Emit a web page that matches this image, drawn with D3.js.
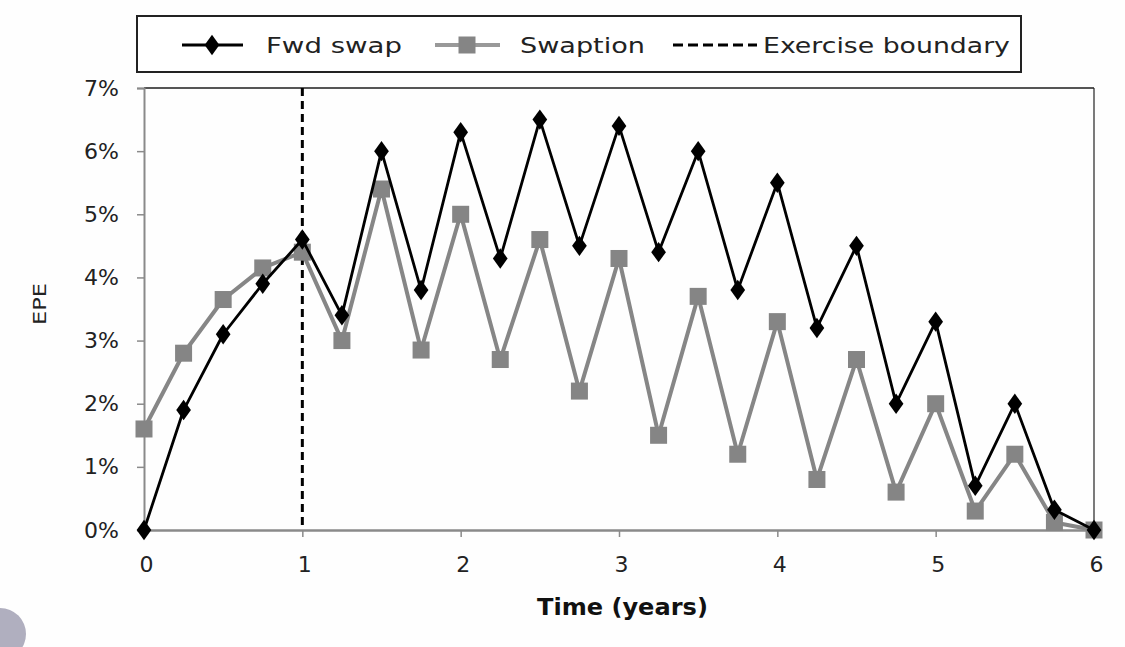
<!DOCTYPE html>
<html>
<head>
<meta charset="utf-8">
<script src="https://cdn.jsdelivr.net/npm/d3@7"></script>
<style>
  html, body { margin: 0; padding: 0; background: #fefefe; }
  svg { display: block; }
</style>
</head>
<body>
<svg id="chart" width="1125" height="647"></svg>
<script>
const times = [0,0.25,0.5,0.75,1,1.25,1.5,1.75,2,2.25,2.5,2.75,3,3.25,3.5,3.75,4,4.25,4.5,4.75,5,5.25,5.5,5.75,6];
const fwdSwap = [0,1.9,3.1,3.9,4.6,3.4,6.0,3.8,6.3,4.3,6.5,4.5,6.4,4.4,6.0,3.8,5.5,3.2,4.5,2.0,3.3,0.7,2.0,0.32,0];
const swaption = [1.6,2.8,3.65,4.15,4.4,3.0,5.4,2.85,5.0,2.7,4.6,2.2,4.3,1.5,3.7,1.2,3.3,0.8,2.7,0.6,2.0,0.3,1.2,0.12,0];
const exerciseBoundary = 1;
const xTicks = [0,1,2,3,4,5,6];
const yTicks = [0,1,2,3,4,5,6,7];
const seriesNames = ["Fwd swap","Swaption","Exercise boundary"];

const svg = d3.select("#chart");
const margin = {left:144, right:31, top:88, bottom:117};
const W = 1125, H = 647;
const x = d3.scaleLinear().domain([0,6]).range([margin.left, W - margin.right]);
const y = d3.scaleLinear().domain([0,7]).range([H - margin.bottom, margin.top]);

const font = "'DejaVu Sans', 'Open Sans', sans-serif";

// stretch a text horizontally so it spans the given width from its left edge
function fitWidth(sel, left, baseline, width) {
  sel.attr("x", 0).attr("y", 0);
  const w = sel.node().getComputedTextLength();
  const k = width / w;
  sel.attr("transform", `translate(${left},${baseline}) scale(${k},1)`);
}

// decorative circle bottom-left
svg.append("circle").attr("cx", 0).attr("cy", 634).attr("r", 26).attr("fill", "#b0afbf");

// plot frame (top and right)
svg.append("line").attr("x1", x(0)).attr("x2", x(6)).attr("y1", y(7)).attr("y2", y(7))
  .attr("stroke", "#555").attr("stroke-width", 2);
svg.append("line").attr("x1", x(6)).attr("x2", x(6)).attr("y1", y(7)).attr("y2", y(0))
  .attr("stroke", "#222").attr("stroke-width", 1.2);

// Y axis
const yAxis = svg.append("g").attr("transform", `translate(${x(0)},0)`)
  .call(d3.axisLeft(y).tickValues(yTicks).tickFormat(d => d + "%").tickSize(7).tickPadding(18));
yAxis.select(".domain").attr("stroke", "#8a8a8a").attr("stroke-width", 2);
yAxis.selectAll(".tick line").attr("stroke", "#8a8a8a").attr("stroke-width", 1.5);
yAxis.selectAll(".tick text").attr("font-family", font).attr("font-size", 22).attr("fill", "#222");

// X axis
const xAxis = svg.append("g").attr("transform", `translate(0,${y(0)})`)
  .call(d3.axisBottom(x).tickValues(xTicks).tickFormat(d3.format("d")).tickSize(7).tickPadding(19));
xAxis.select(".domain").attr("stroke", "#8a8a8a").attr("stroke-width", 2.5);
xAxis.selectAll(".tick line").attr("stroke", "#8a8a8a").attr("stroke-width", 1.5);
xAxis.selectAll(".tick text").attr("font-family", font).attr("font-size", 22).attr("fill", "#222")
  .attr("dx", 2);

// axis titles
const xt = svg.append("text").attr("font-family", font).attr("font-weight", "bold")
  .attr("font-size", 23).attr("fill", "#111").text("Time (years)");
fitWidth(xt, 537, 615, 171);
svg.append("text").attr("transform", "translate(46,283) rotate(-90)").attr("text-anchor", "end")
  .attr("font-family", font).attr("font-size", 18).attr("fill", "#222")
  .attr("textLength", 42).attr("lengthAdjust", "spacingAndGlyphs").text("EPE");

// exercise boundary
svg.append("line").attr("x1", x(exerciseBoundary)).attr("x2", x(exerciseBoundary))
  .attr("y1", y(7)).attr("y2", y(0))
  .attr("stroke", "#000").attr("stroke-width", 3).attr("stroke-dasharray", "8,5");

const line = d3.line().x((d,i) => x(times[i])).y(d => y(d));

// Swaption
svg.append("path").datum(swaption).attr("d", line)
  .attr("fill", "none").attr("stroke", "#868686").attr("stroke-width", 4).attr("stroke-linejoin", "round");
svg.selectAll(".sq").data(swaption).enter().append("rect")
  .attr("x", (d,i) => x(times[i]) - 8.5).attr("y", d => y(d) - 8.5)
  .attr("width", 17).attr("height", 17).attr("fill", "#858585");

// Fwd swap
svg.append("path").datum(fwdSwap).attr("d", line)
  .attr("fill", "none").attr("stroke", "#000").attr("stroke-width", 2.8).attr("stroke-linejoin", "round");
const diamond = d3.symbol().type(d3.symbolDiamond).size(120);
svg.selectAll(".dm").data(fwdSwap).enter().append("path")
  .attr("d", diamond)
  .attr("transform", (d,i) => `translate(${x(times[i])},${y(d)}) scale(1.25,1)`)
  .attr("fill", "#000");

// Legend
const lg = svg.append("g");
lg.append("rect").attr("x", 137).attr("y", 16).attr("width", 884).attr("height", 56)
  .attr("fill", "#fff").attr("stroke", "#222").attr("stroke-width", 2);
const ly = 45;
const legendText = (tx, len, s) => {
  const t = lg.append("text").attr("font-family", font).attr("font-size", 22).attr("fill", "#222").text(s);
  fitWidth(t, tx, ly + 8, len);
};
// Fwd swap
lg.append("line").attr("x1", 182).attr("x2", 243).attr("y1", ly).attr("y2", ly).attr("stroke", "#000").attr("stroke-width", 2.8);
lg.append("path").attr("d", diamond).attr("transform", `translate(212,${ly}) scale(1.25,1)`).attr("fill", "#000");
legendText(266, 136, seriesNames[0]);
// Swaption
lg.append("line").attr("x1", 435).attr("x2", 500).attr("y1", ly).attr("y2", ly).attr("stroke", "#999").attr("stroke-width", 4);
lg.append("rect").attr("x", 467 - 8.5).attr("y", ly - 8.5).attr("width", 17).attr("height", 17).attr("fill", "#858585");
legendText(520, 125, seriesNames[1]);
// Exercise boundary
lg.append("line").attr("x1", 673).attr("x2", 757).attr("y1", ly).attr("y2", ly)
  .attr("stroke", "#000").attr("stroke-width", 3.2).attr("stroke-dasharray", "10,5");
legendText(763, 247, seriesNames[2]);
</script>
</body>
</html>
